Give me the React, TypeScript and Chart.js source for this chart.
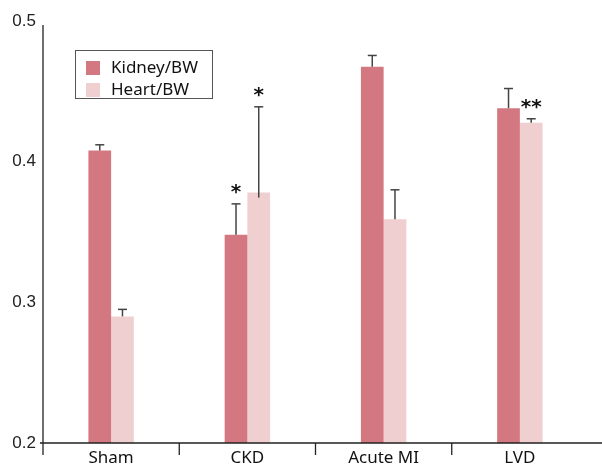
import React, { useEffect, useRef } from "react";
import { Chart, registerables } from "chart.js";

Chart.register(...registerables);

const categories = ["Sham", "CKD", "Acute MI", "LVD"];
const kidneyValues = [0.408, 0.348, 0.4675, 0.438];
const kidneyErrTop = [0.412, 0.37, 0.4755, 0.452];
const kidneyStars = ["", "*", "", ""];
const heartValues = [0.29, 0.378, 0.359, 0.4276];
const heartErrTop = [0.295, 0.439, 0.38, 0.4305];
const heartStars = ["", "*", "", "**"];
const yTicks = [0.2, 0.3, 0.4, 0.5];
const seriesNames = ["Kidney/BW", "Heart/BW"];
const seriesColors = ["rgb(211,119,128)", "rgb(239,207,207)"];

const errTops = [kidneyErrTop, heartErrTop];
const stars = [kidneyStars, heartStars];

const LABEL_FONT = '"Noto Sans", sans-serif';

const errorBarPlugin = {
  id: "errorBars",
  afterDatasetsDraw(chart: any) {
    const ctx = chart.ctx;
    const y = chart.scales.y;
    ctx.save();
    chart.data.datasets.forEach((_: any, di: number) => {
      const meta = chart.getDatasetMeta(di);
      meta.data.forEach((el: any, i: number) => {
        const top = y.getPixelForValue(errTops[di][i]);
        ctx.strokeStyle = "#444";
        ctx.lineWidth = 1.5;
        ctx.beginPath();
        ctx.moveTo(el.x, el.y + (di === 1 && i === 1 ? 5 : 0));
        ctx.lineTo(el.x, top);
        ctx.stroke();
        ctx.beginPath();
        ctx.moveTo(el.x - 4.5, top);
        ctx.lineTo(el.x + 4.5, top);
        ctx.stroke();
        const s = stars[di][i];
        if (s) {
          ctx.fillStyle = "#111";
          ctx.font = 'bold 20px "DejaVu Sans", sans-serif';
          ctx.textAlign = "center";
          ctx.textBaseline = "alphabetic";
          ctx.fillText(s, el.x, top - 6);
        }
      });
    });
    ctx.restore();
  },
};

const axesPlugin = {
  id: "customAxes",
  afterDraw(chart: any) {
    const ctx = chart.ctx;
    const { left, bottom } = chart.chartArea;
    const x = chart.scales.x;
    ctx.save();
    ctx.strokeStyle = "#222";
    ctx.lineWidth = 1.3;
    ctx.beginPath();
    ctx.moveTo(left, 25);
    ctx.lineTo(left, bottom + 12);
    ctx.moveTo(left - 3, bottom);
    ctx.lineTo(chart.width, bottom);
    for (let i = 1; i < categories.length; i++) {
      const sx = (x.getPixelForTick(i - 1) + x.getPixelForTick(i)) / 2;
      ctx.moveTo(sx, bottom);
      ctx.lineTo(sx, bottom + 12);
    }
    ctx.stroke();

    // legend
    const bx = 75.5, by = 50.5, bw = 137, bh = 48;
    ctx.strokeStyle = "#555";
    ctx.lineWidth = 1;
    ctx.strokeRect(bx, by, bw, bh);
    seriesNames.forEach((name, i) => {
      const sy = 61 + i * 22;
      ctx.fillStyle = seriesColors[i];
      ctx.fillRect(86, sy, 14, 14);
      ctx.fillStyle = "#111";
      ctx.font = `17px ${LABEL_FONT}`;
      ctx.textAlign = "left";
      ctx.textBaseline = "middle";
      ctx.fillText(name, 111, sy + 7.5);
    });
    ctx.restore();
  },
};

export default function App() {
  const ref = useRef<HTMLCanvasElement | null>(null);
  useEffect(() => {
    document.body.style.margin = "0";
    if (!ref.current) return;
    const chart = new Chart(ref.current, {
      type: "bar",
      data: {
        labels: categories,
        datasets: [
          {
            label: seriesNames[0],
            data: kidneyValues,
            backgroundColor: seriesColors[0],
            categoryPercentage: 1 / 3,
            barPercentage: 1,
          },
          {
            label: seriesNames[1],
            data: heartValues,
            backgroundColor: seriesColors[1],
            categoryPercentage: 1 / 3,
            barPercentage: 1,
          },
        ],
      },
      options: {
        responsive: false,
        animation: false,
        layout: { padding: { top: 21, right: 14, left: 0, bottom: 0 } },
        plugins: { legend: { display: false }, tooltip: { enabled: false } },
        scales: {
          x: {
            grid: { display: false, drawTicks: false },
            border: { display: false },
            ticks: {
              color: "#111",
              font: { family: LABEL_FONT, size: 17 },
              padding: 5,
            },
            afterFit(scale: any) {
              scale.height = 22;
            },
          },
          y: {
            min: 0.2,
            max: 0.5,
            grid: { display: false, drawTicks: false },
            border: { display: false },
            afterBuildTicks(scale: any) {
              scale.ticks = yTicks.map((v) => ({ value: v }));
            },
            ticks: {
              color: "#222",
              font: { family: '"Liberation Sans", Arial, sans-serif', size: 17 },
              padding: 7,
              callback: (v: any) => Number(v).toFixed(1),
            },
            afterFit(scale: any) {
              scale.width = 43;
            },
          },
        },
      },
      plugins: [errorBarPlugin, axesPlugin],
    });
    return () => chart.destroy();
  }, []);
  return (
    <div style={{ width: 602, height: 465 }}>
      <canvas ref={ref} width={602} height={465} />
    </div>
  );
}
